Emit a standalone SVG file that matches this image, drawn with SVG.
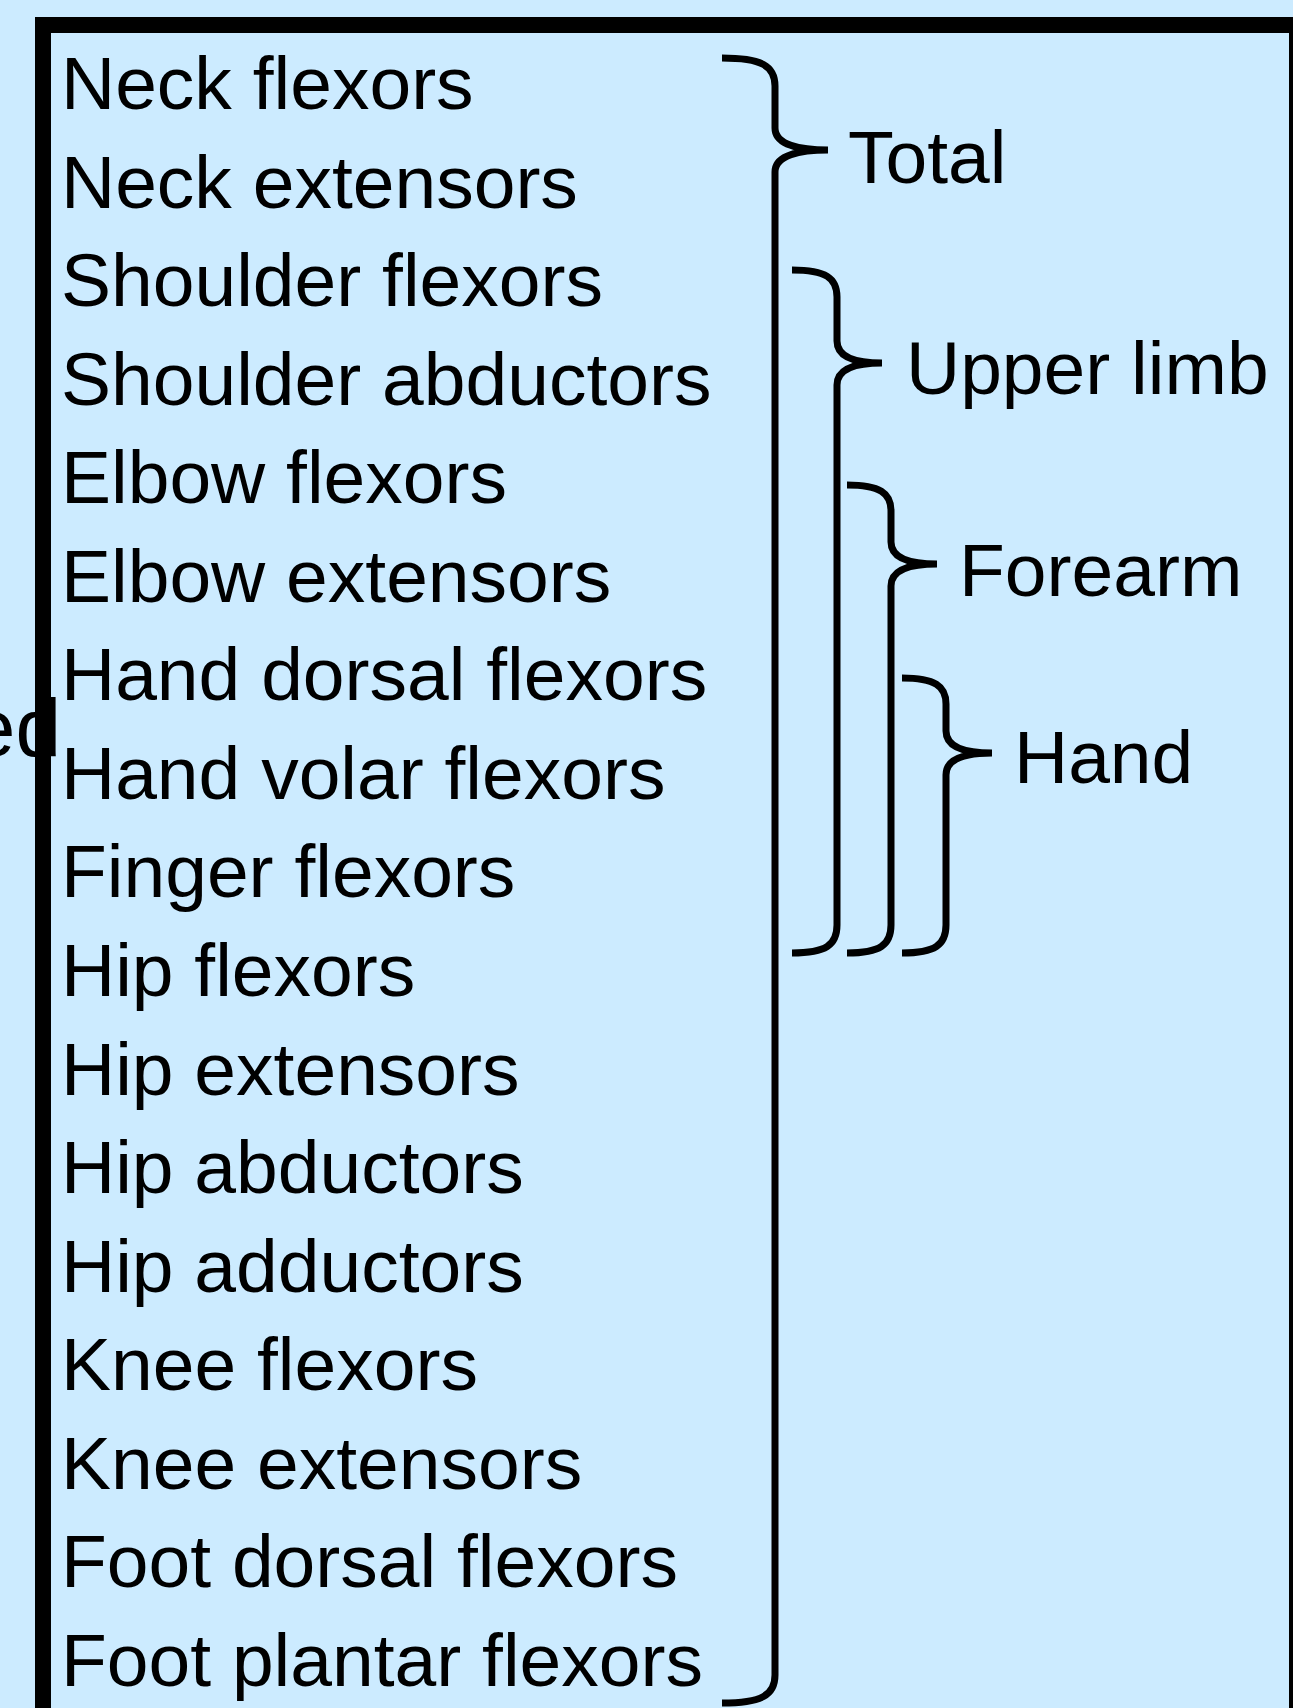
<svg xmlns="http://www.w3.org/2000/svg" width="1293" height="1708" viewBox="0 0 1293 1708">
<style>
.t{font-family:"Liberation Sans",Arial,sans-serif;font-size:75px;fill:#000}
.b{fill:none;stroke:#000;stroke-width:7;stroke-linecap:butt}
</style>
<rect x="0" y="0" width="1293" height="1708" fill="#CCEBFF"/>
<g id="cutlabel"><text x="61" y="756" text-anchor="end" style="font-family:'Liberation Sans',Arial,sans-serif;font-size:82px">ed</text></g>
<g id="frame"><rect x="43" y="25" width="1254" height="1720" fill="none" stroke="#000" stroke-width="16"/></g>
<g id="muscles">
<text class="t" x="61" y="109">Neck flexors</text>
<text class="t" x="61" y="207.6">Neck extensors</text>
<text class="t" x="61" y="306.1">Shoulder flexors</text>
<text class="t" x="61" y="404.7">Shoulder abductors</text>
<text class="t" x="61" y="503.2">Elbow flexors</text>
<text class="t" x="61" y="601.8">Elbow extensors</text>
<text class="t" x="61" y="700.3">Hand dorsal flexors</text>
<text class="t" x="61" y="798.9">Hand volar flexors</text>
<text class="t" x="61" y="897.4">Finger flexors</text>
<text class="t" x="61" y="996">Hip flexors</text>
<text class="t" x="61" y="1094.5">Hip extensors</text>
<text class="t" x="61" y="1193.1">Hip abductors</text>
<text class="t" x="61" y="1291.6">Hip adductors</text>
<text class="t" x="61" y="1390.2">Knee flexors</text>
<text class="t" x="61" y="1488.7">Knee extensors</text>
<text class="t" x="61" y="1587.3">Foot dorsal flexors</text>
<text class="t" x="61" y="1685.8">Foot plantar flexors</text>
</g>
<g id="groups">
<g id="total"><text class="t" x="848" y="183">Total</text></g>
<g id="upper"><text class="t" x="906" y="394">Upper limb</text></g>
<g id="forearm"><text class="t" x="959" y="596">Forearm</text></g>
<g id="hand"><text class="t" x="1014" y="783">Hand</text></g>
</g>
<g id="connectors">
<path class="b" d="M722,58 C762,58 775,66 775,86 L775,128 C775,145 800,150 828,150 C800,150 775,155 775,172 L775,1675 C775,1695 762,1703 722,1703"/>
<path class="b" d="M792,270 C826,270 837,278 837,297 L837,341 C837,358 858,363 882,363 C858,363 837,368 837,385 L837,925 C837,945 826,953 792,953"/>
<path class="b" d="M847,485 C880,485 891,493 891,511 L891,542 C891,559 912,564 937,564 C912,564 891,569 891,586 L891,925 C891,945 880,953 847,953"/>
<path class="b" d="M902,678 C935,678 946,686 946,704 L946,731 C946,748 967,753 992,753 C967,753 946,758 946,775 L946,925 C946,945 935,953 902,953"/>
</g>
</svg>
